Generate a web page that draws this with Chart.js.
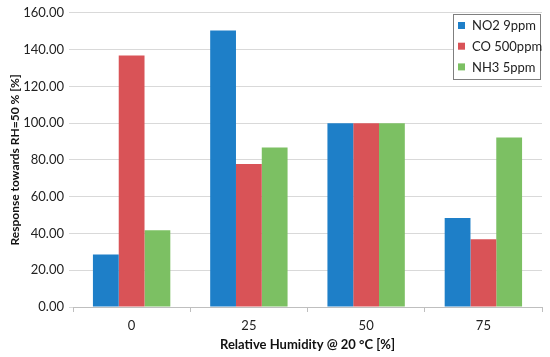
<!DOCTYPE html>
<html>
<head>
<meta charset="utf-8">
<script src="https://cdn.jsdelivr.net/npm/chart.js@4"></script>
<style>
  html, body { margin: 0; padding: 0; background: #fff; }
  #wrap { width: 550px; height: 357px; }
</style>
</head>
<body>
<div id="wrap"><canvas id="chart" width="550" height="357"></canvas></div>
<script>
// humidity steps and responses
const humidity = ['0', '25', '50', '75'];
const no2 = [28.6, 150.4, 100, 48.4];
const co = [136.8, 77.8, 100, 36.9];
const nh3 = [41.8, 86.8, 100, 92.2];
const seriesNames = ['NO2 9ppm', 'CO 500ppm', 'NH3 5ppm'];
const colors = ['#1e7fc8', '#d95357', '#7cc063'];

const FONT = 'Lato, "Open Sans", sans-serif';

// legend drawn inside the plot, top right, with a grey frame
const boxLegend = {
    id: 'boxLegend',
    afterDraw(chart) {
        const ctx = chart.ctx;
        const x = 453, y = 14, w = 87, h = 65;
        ctx.save();
        ctx.fillStyle = '#fff';
        ctx.fillRect(x, y, w, h);
        ctx.strokeStyle = '#7f7f7f';
        ctx.lineWidth = 1;
        ctx.strokeRect(x + 0.5, y + 0.5, w, h);
        ctx.font = '13px ' + FONT;
        ctx.textBaseline = 'middle';
        chart.data.datasets.forEach((ds, i) => {
            const cy = y + 11 + i * 20.7;
            ctx.fillStyle = ds.backgroundColor;
            ctx.fillRect(x + 5, cy - 3, 7, 7);
            ctx.fillStyle = '#222';
            ctx.fillText(ds.label, x + 19, cy + 1);
        });
        ctx.restore();
    }
};

new Chart(document.getElementById('chart'), {
    type: 'bar',
    data: {
        labels: humidity,
        datasets: [no2, co, nh3].map((vals, i) => ({
            label: seriesNames[i],
            data: vals,
            backgroundColor: colors[i],
            borderWidth: 0,
            barPercentage: 1,
            categoryPercentage: 0.66
        }))
    },
    options: {
        responsive: false,
        animation: false,
        layout: { padding: { left: 4, right: 8, top: 4, bottom: 0 } },
        plugins: {
            legend: { display: false },
            tooltip: { enabled: false }
        },
        scales: {
            x: {
                afterFit(scale) { scale.height = 50; },
                grid: {
                    offset: true,
                    drawOnChartArea: false,
                    color: '#bfbfbf',
                    tickLength: 5
                },
                border: { color: '#bfbfbf' },
                ticks: { color: '#222', font: { family: FONT, size: 13 }, padding: 6 },
                title: {
                    display: true,
                    text: 'Relative Humidity @ 20 °C [%]',
                    color: '#111',
                    font: { family: FONT, size: 13, weight: 'bold' },
                    padding: { top: 0 }
                }
            },
            y: {
                min: 0,
                max: 160,
                afterFit(scale) { scale.width = 69; },
                ticks: {
                    stepSize: 20,
                    color: '#222',
                    font: { family: FONT, size: 13 },
                    padding: 5,
                    callback: v => v.toFixed(2)
                },
                grid: { color: '#d9d9d9', tickLength: 4 },
                border: { display: false },
                title: {
                    display: true,
                    text: 'Response towards RH=50 % [%]',
                    color: '#111',
                    font: { family: FONT, size: 12, weight: 'bold' },
                    padding: { bottom: 2 }
                }
            }
        }
    },
    plugins: [boxLegend]
});
</script>
</body>
</html>
